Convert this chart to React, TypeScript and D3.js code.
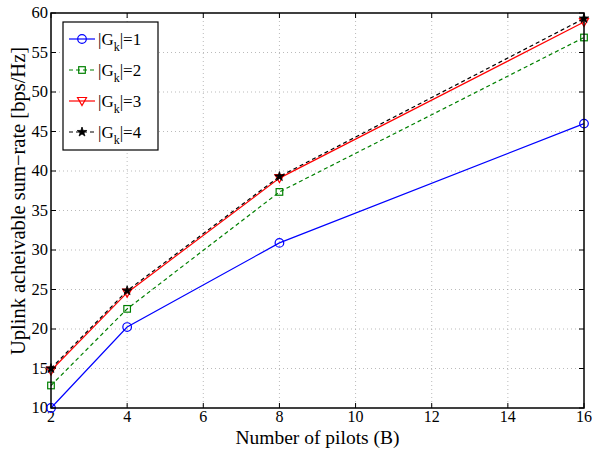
import * as d3 from "d3";

const pilots = [2, 4, 8, 16];
const g1 = [10.0, 20.25, 30.9, 46.0];
const g2 = [12.85, 22.55, 37.35, 56.9];
const g3 = [14.75, 24.6, 39.1, 58.85];
const g4 = [15.0, 24.85, 39.3, 59.3];
const xTicks = [2, 4, 6, 8, 10, 12, 14, 16];
const yTicks = [10, 15, 20, 25, 30, 35, 40, 45, 50, 55, 60];

const series = [
  { label: "1", values: g1, color: "#0000ff", dash: "", marker: "circle" },
  { label: "2", values: g2, color: "#008000", dash: "4,3", marker: "square" },
  { label: "3", values: g3, color: "#ff0000", dash: "", marker: "triangle" },
  { label: "4", values: g4, color: "#000000", dash: "4,3", marker: "star" },
];

const W = 594;
const H = 451;
const m = { left: 51, right: 584, top: 13, bottom: 408 };
const font = "'Liberation Serif', 'Times New Roman', serif";

function Marker({ type, x, y, color }: { type: string; x: number; y: number; color: string }) {
  if (type === "circle")
    return <circle cx={x} cy={y} r={4.3} fill="none" stroke={color} strokeWidth={1.2} />;
  if (type === "square")
    return <rect x={x - 3.3} y={y - 3.3} width={6.6} height={6.6} fill="none" stroke={color} strokeWidth={1.2} />;
  if (type === "triangle")
    return (
      <path
        d={`M${x - 4.5},${y - 3.5}L${x + 4.5},${y - 3.5}L${x},${y + 4.5}Z`}
        fill="none"
        stroke={color}
        strokeWidth={1.2}
      />
    );
  const star = d3.symbol(d3.symbolStar, 28)();
  return <path d={star ?? ""} transform={`translate(${x},${y})`} fill={color} stroke={color} strokeWidth={0.8} />;
}

export default function App() {
  const x = d3.scaleLinear().domain([2, 16]).range([m.left, m.right]);
  const y = d3.scaleLinear().domain([10, 60]).range([m.bottom, m.top]);
  const line = d3
    .line<number>()
    .x((_, i) => x(pilots[i]))
    .y((d) => y(d));

  const lg = { x: 63, y: 22, w: 95, h: 128 };

  return (
    <svg width={W} height={H} style={{ position: "absolute", left: 0, top: 0, background: "#fff" }} fontFamily={font}>
      <rect width={W} height={H} fill="#fff" />
      {/* grid */}
      {xTicks.slice(1, -1).map((t) => (
        <line key={"gx" + t} x1={x(t)} x2={x(t)} y1={m.top} y2={m.bottom} stroke="#aaa" strokeWidth={0.8} strokeDasharray="1,3" />
      ))}
      {yTicks.slice(1, -1).map((t) => (
        <line key={"gy" + t} x1={m.left} x2={m.right} y1={y(t)} y2={y(t)} stroke="#aaa" strokeWidth={0.8} strokeDasharray="1,3" />
      ))}
      {/* ticks */}
      {xTicks.map((t) => (
        <g key={"tx" + t}>
          <line x1={x(t)} x2={x(t)} y1={m.bottom} y2={m.bottom - 5} stroke="#000" />
          <line x1={x(t)} x2={x(t)} y1={m.top} y2={m.top + 5} stroke="#000" />
          <text x={x(t)} y={m.bottom + 14} textAnchor="middle" fontSize={16}>
            {t}
          </text>
        </g>
      ))}
      {yTicks.map((t) => (
        <g key={"ty" + t}>
          <line x1={m.left} x2={m.left + 5} y1={y(t)} y2={y(t)} stroke="#000" />
          <line x1={m.right} x2={m.right - 5} y1={y(t)} y2={y(t)} stroke="#000" />
          <text x={m.left - 3} y={y(t) + 5} textAnchor="end" fontSize={16.5}>
            {t}
          </text>
        </g>
      ))}
      {/* series */}
      {series.map((s) => (
        <g key={s.label}>
          <path d={line(s.values) ?? ""} fill="none" stroke={s.color} strokeWidth={1.2} strokeDasharray={s.dash} />
          {s.values.map((v, i) => (
            <Marker key={i} type={s.marker} x={x(pilots[i])} y={y(v)} color={s.color} />
          ))}
        </g>
      ))}
      {/* frame */}
      <rect x={m.left} y={m.top} width={m.right - m.left} height={m.bottom - m.top} fill="none" stroke="#000" strokeWidth={1.5} />
      {/* legend */}
      <rect x={lg.x} y={lg.y} width={lg.w} height={lg.h} fill="#fff" stroke="#000" strokeWidth={1.2} />
      {series.map((s, i) => {
        const ly = 39 + i * 31;
        return (
          <g key={"lg" + s.label}>
            <line x1={69} x2={95} y1={ly} y2={ly} stroke={s.color} strokeWidth={1.2} strokeDasharray={s.dash} />
            <Marker type={s.marker} x={82} y={ly} color={s.color} />
            <text x={98} y={ly + 6} fontSize={17}>
              |G<tspan fontSize={12} dy={6}>k</tspan>
              <tspan dy={-6}>|={s.label}</tspan>
            </text>
          </g>
        );
      })}
      {/* labels */}
      <text x={(m.left + m.right) / 2} y={444} textAnchor="middle" fontSize={19.5}>
        Number of pilots (B)
      </text>
      <text transform={`translate(25,201) rotate(-90)`} textAnchor="middle" fontSize={20.5}>
        Uplink acheivable sum−rate [bps/Hz]
      </text>
    </svg>
  );
}
